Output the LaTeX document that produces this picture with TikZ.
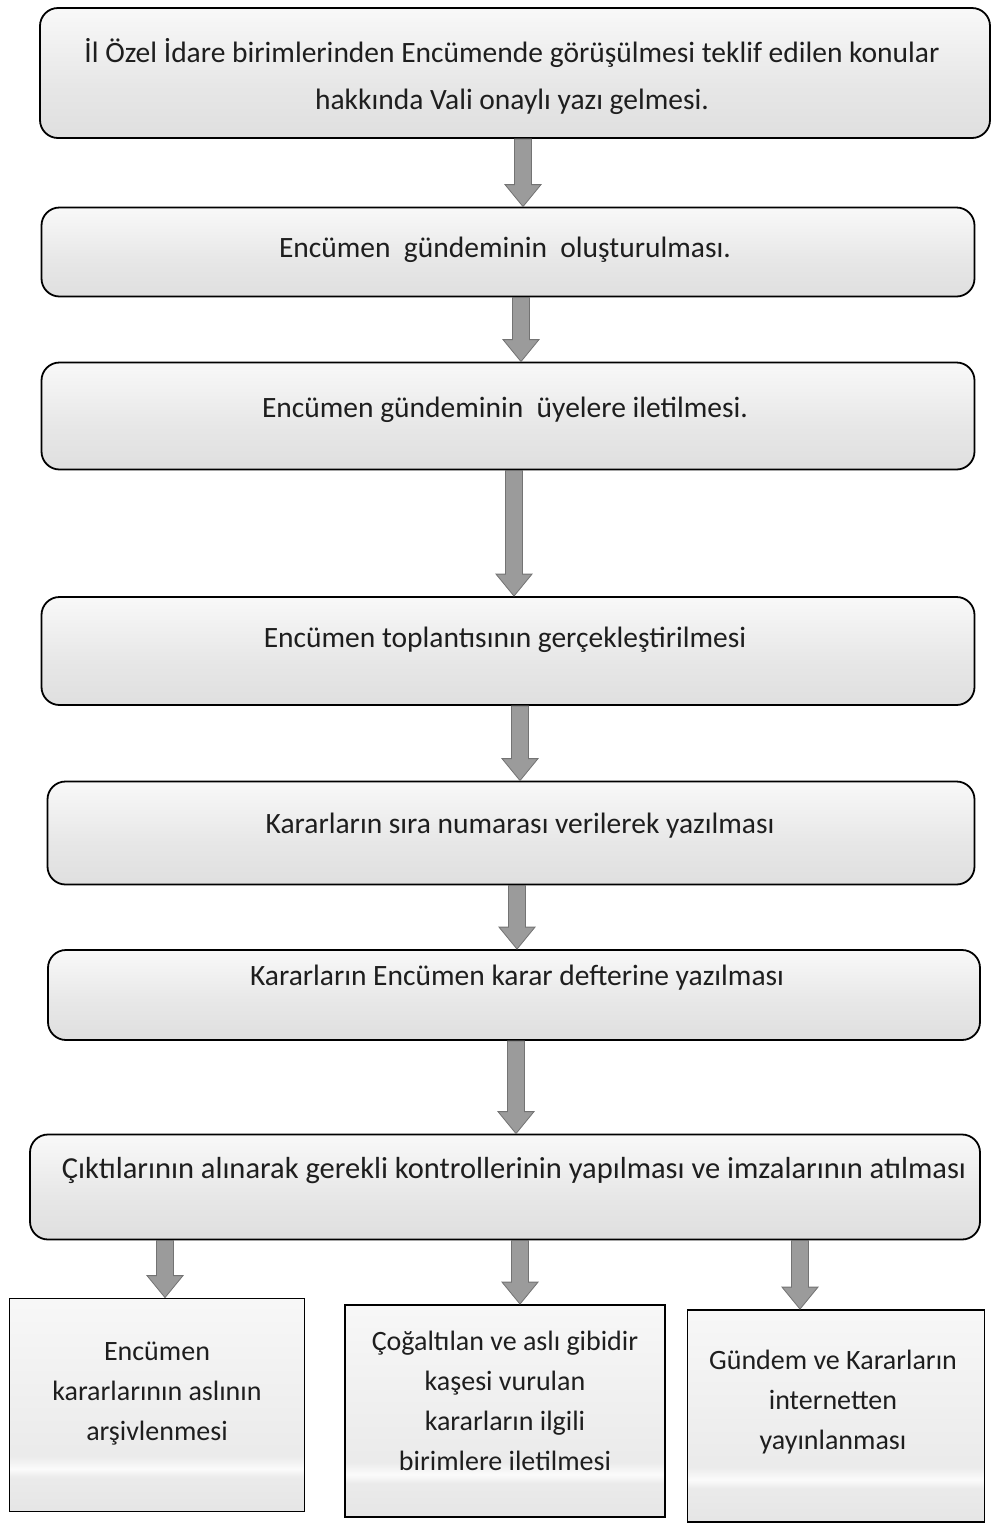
\documentclass[tikz,border=0pt]{standalone}
\usepackage{fontspec}
\setmainfont{Carlito}
\usetikzlibrary{calc}
\definecolor{arrfill}{RGB}{155,155,155}
\definecolor{arrline}{RGB}{115,115,115}
\definecolor{txt}{RGB}{30,30,30}
\pgfdeclareverticalshading{mainshade}{100bp}{color(0bp)=(gray!25); color(25bp)=(gray!25); color(45bp)=(gray!19); color(75bp)=(gray!5); color(100bp)=(gray!5)}
\pgfdeclareverticalshading{lowshade}{100bp}{color(0bp)=(gray!20); color(25bp)=(gray!20); color(33bp)=(gray!16); color(35bp)=(gray!3); color(38bp)=(gray!16); color(75bp)=(gray!6); color(100bp)=(gray!6)}
\tikzset{
  mainbox/.style={draw=black, line width=1.8pt, rounded corners=18pt, shade, shading=mainshade, inner sep=0pt},
  lowbox/.style={draw=black, line width=1.8pt, shade, shading=lowshade, inner sep=0pt},
  boxtext/.style={text=txt, font=\fontsize{29.5}{47}\selectfont, align=center, inner sep=0pt},
  widetext/.style={text=txt, font=\fontsize{30.5}{47}\selectfont, align=center, inner sep=0pt},
  lowtext/.style={text=txt, font=\fontsize{28}{40}\selectfont, align=center, inner sep=0pt},
  arr/.style={fill=arrfill, draw=arrline, line width=0.8pt}
}
\newcommand\flowarrow[3]{%
  \draw[arr] let \p1=(#1.south), \p2=(#2.north) in
    (#3pt-8.5pt,\y1) -- (#3pt-8.5pt,\y2+22pt) -- (#3pt-18pt,\y2+22pt) -- (#3pt,\y2)
    -- (#3pt+18pt,\y2+22pt) -- (#3pt+8.5pt,\y2+22pt) -- (#3pt+8.5pt,\y1) -- cycle;}
\begin{document}
\begin{tikzpicture}[x=1pt,y=-1pt]
\useasboundingbox (0,0) rectangle (1008,1527);
% main boxes
\node[mainbox, minimum width=950, minimum height=130] (b1) at (515,73) {};
\node[mainbox, minimum width=933, minimum height=89] (b2) at (508,252) {};
\node[mainbox, minimum width=933, minimum height=107] (b3) at (508,416) {};
\node[mainbox, minimum width=933, minimum height=108] (b4) at (508,651) {};
\node[mainbox, minimum width=927, minimum height=103] (b5) at (511,833) {};
\node[mainbox, minimum width=932, minimum height=90] (b6) at (514,995) {};
\node[mainbox, minimum width=950, minimum height=105] (b7) at (505,1187) {};
% bottom boxes
\node[lowbox, minimum width=295, minimum height=213] (l1) at (157,1405) {};
\node[lowbox, minimum width=320, minimum height=212] (l2) at (505,1411) {};
\node[lowbox, minimum width=297, minimum height=212] (l3) at (836,1416) {};
% texts
\node[boxtext] (t1) at (512,76) {İl Özel İdare birimlerinden Encümende görüşülmesi teklif edilen konular\\hakkında Vali onaylı yazı gelmesi.};
\node[boxtext] (t2) at (505,250) {Encümen\ \ gündeminin\ \ oluşturulması.};
\node[boxtext] (t3) at (505,410) {Encümen gündeminin\ \ üyelere iletilmesi.};
\node[boxtext] (t4) at (505,640) {Encümen toplantısının gerçekleştirilmesi};
\node[boxtext] (t5) at (520,826) {Kararların sıra numarası verilerek yazılması};
\node[boxtext] (t6) at (517,978) {Kararların Encümen karar defterine yazılması};
\node[widetext] (t7) at (514,1171) {Çıktılarının alınarak gerekli kontrollerinin yapılması ve imzalarının atılması};
\node[lowtext] (t8) at (157,1394) {Encümen\\kararlarının aslının\\arşivlenmesi};
\node[lowtext] (t9) at (505,1401) {Çoğaltılan ve aslı gibidir\\kaşesi vurulan\\kararların ilgili\\birimlere iletilmesi};
\node[lowtext] (t10) at (833,1402) {Gündem ve Kararların\\internetten\\yayınlanması};
% arrows
\flowarrow{b1}{b2}{523}
\flowarrow{b2}{b3}{521}
\flowarrow{b3}{b4}{514}
\flowarrow{b4}{b5}{520}
\flowarrow{b5}{b6}{517}
\flowarrow{b6}{b7}{516}
\flowarrow{b7}{l1}{165}
\flowarrow{b7}{l2}{520}
\flowarrow{b7}{l3}{800}
\end{tikzpicture}
\end{document}
